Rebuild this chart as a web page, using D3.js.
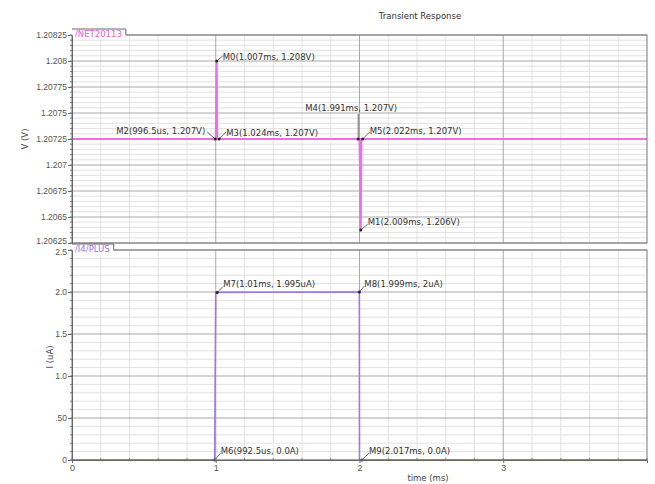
<!DOCTYPE html>
<html>
<head>
<meta charset="utf-8">
<script src="https://cdn.jsdelivr.net/npm/d3@7"></script>
<style>
  html, body { margin: 0; padding: 0; background: #fff; }
  svg { display: block; font-family: "DejaVu Sans", Verdana, sans-serif; }
</style>
</head>
<body>
<svg id="chart" width="655" height="484"></svg>
<script>
// Time axis (ms)
const timeTicks = [0, 1, 2, 3];

// Voltage trace /NET20113 (time in ms, volts)
const vTime  = [0, 0.9965, 1.0, 1.007, 1.010, 1.024, 1.991, 2.0, 2.009, 2.013, 2.022, 4];
const vValue = [1.20725, 1.20725, 1.20725, 1.208, 1.20725, 1.20725, 1.20725, 1.20725, 1.206375, 1.20725, 1.20725, 1.20725];
const vTicks = [1.20625, 1.2065, 1.20675, 1.207, 1.20725, 1.2075, 1.20775, 1.208, 1.20825];
const vTickLabels = ["1.20625", "1.2065", "1.20675", "1.207", "1.20725", "1.2075", "1.20775", "1.208", "1.20825"];

// Current trace /I4/PLUS (time in ms, uA)
const iTime  = [0, 0.9925, 1.0, 1.01, 1.999, 2.0, 2.017, 4];
const iValue = [0, 0, 2.0, 1.995, 2.0, 0, 0, 0];
const iTicks = [0, 0.5, 1.0, 1.5, 2.0, 2.5];
const iTickLabels = ["0", ".50", "1.0", "1.5", "2.0", "2.5"];

// Markers: name, time (ms), value
const vMarkerNames = ["M0", "M2", "M3", "M4", "M5", "M1"];
const vMarkerTime  = [1.007, 0.9965, 1.024, 1.991, 2.022, 2.009];
const vMarkerValue = [1.208, 1.20725, 1.20725, 1.20725, 1.20725, 1.206375];
const iMarkerNames = ["M7", "M8", "M6", "M9"];
const iMarkerTime  = [1.01, 1.999, 0.9925, 2.017];
const iMarkerValue = [1.995, 2, 0, 0];

const svg = d3.select("#chart");

const left = 72, right = 647;
const vTop = 35, vBottom = 243;
const iTop = 250, iBottom = 460;

const x = d3.scaleLinear().domain([0, 4]).range([left, right]);
const yV = d3.scaleLinear().domain([1.20625, 1.20825]).range([vBottom, vTop]);
const yI = d3.scaleLinear().domain([0, 2.5]).range([iBottom, iTop]);

const fmtTime = t => t < 1 ? (+(t * 1000).toFixed(1)) + "us" : (+t.toFixed(3)) + "ms";
const fmtV = v => d3.format(".4")(v) + "V";
const fmtI = v => v === 0 ? "0.0A" : (+v.toFixed(3)) + "uA";

function grid(g, y, yDomain, minorStep, majorTicks, top, bottom) {
  // minor verticals every 0.2 ms
  const xMinor = d3.range(0, 4.0001, 0.2).filter(t => Math.abs(t - Math.round(t)) > 1e-6);
  g.selectAll(".xminor").data(xMinor).join("line")
    .attr("x1", d => x(d)).attr("x2", d => x(d))
    .attr("y1", top).attr("y2", bottom)
    .attr("stroke", "#e2e2e2").attr("stroke-width", 1);
  // minor horizontals
  const n = Math.round((yDomain[1] - yDomain[0]) / minorStep);
  const yMinor = d3.range(0, n + 1).map(k => yDomain[0] + k * minorStep)
    .filter((d, k) => k % 5 !== 0);
  g.selectAll(".yminor").data(yMinor).join("line")
    .attr("x1", left).attr("x2", right)
    .attr("y1", d => y(d)).attr("y2", d => y(d))
    .attr("stroke", "#e2e2e2").attr("stroke-width", 1);
  // major verticals
  g.selectAll(".xmajor").data(timeTicks.slice(1)).join("line")
    .attr("x1", d => x(d)).attr("x2", d => x(d))
    .attr("y1", top).attr("y2", bottom)
    .attr("stroke", "#a8a8a8").attr("stroke-width", 1);
  // major horizontals
  g.selectAll(".ymajor").data(majorTicks).join("line")
    .attr("x1", left).attr("x2", right)
    .attr("y1", d => y(d)).attr("y2", d => y(d))
    .attr("stroke", "#a8a8a8").attr("stroke-width", 1);
}

function yAxis(g, y, ticks, labels, minorStep, nudge) {
  const ax = d3.axisLeft(y).tickValues(ticks).tickFormat((d, i) => labels[i]).tickSize(4).tickPadding(1);
  g.call(ax);
  g.select(".domain").attr("stroke", "#666");
  g.selectAll(".tick line").attr("stroke", "#666");
  g.selectAll(".tick text").attr("fill", "#555").style("font-size", "8.5px")
    .attr("dy", (d, i) => (nudge && nudge[i] ? 0.32 * 8.5 + nudge[i] : 0.32 * 8.5) + "px");
  const d0 = y.domain();
  const n = Math.round((d0[1] - d0[0]) / minorStep);
  g.selectAll(".mt").data(d3.range(0, n + 1).map(k => d0[0] + k * minorStep)).join("line")
    .attr("class", "mt").attr("x1", -2).attr("x2", 0)
    .attr("y1", d => y(d)).attr("y2", d => y(d)).attr("stroke", "#777");
}

function frame(g, top, bottom, name, color) {
  g.append("rect").attr("x", left).attr("y", top).attr("width", right - left).attr("height", bottom - top)
    .attr("fill", "none").attr("stroke", "#777").attr("stroke-width", 1);
  const t = g.append("text").attr("x", left + 3).attr("y", top + 2)
    .attr("fill", color).style("font-size", "8.5px").text(name);
  const w = t.node().getComputedTextLength() + 7;
  g.append("rect").attr("x", left).attr("y", top - 6).attr("width", w).attr("height", 11)
    .attr("fill", "#fff");
  g.append("path").attr("d", `M${left},${top - 6}H${left + w}V${top}`)
    .attr("fill", "none").attr("stroke", "#666");
  t.raise();
}

function markers(g, y, names, times, values, fmtVal, layout) {
  names.forEach((nm, i) => {
    const px = x(times[i]), py = y(values[i]);
    const L = layout[nm];
    g.append("path").attr("d", `M${px},${py}L${px + L.lx},${py + L.ly}`)
      .attr("stroke", "#444").attr("fill", "none").attr("stroke-width", 0.8);
    g.append("circle").attr("cx", px).attr("cy", py).attr("r", 1.5).attr("fill", "#222");
    g.append("text").attr("x", px + L.dx).attr("y", py + L.dy)
      .attr("text-anchor", L.anchor || "start")
      .attr("fill", "#333").style("font-size", "8.5px")
      .text(`${nm}(${fmtTime(times[i])}, ${fmtVal(values[i])})`);
  });
}

// ---- Top panel: voltage ----
const gV = svg.append("g");
grid(gV, yV, yV.domain(), 0.00005, vTicks, vTop, vBottom);
gV.append("path")
  .datum(vTime.map((t, i) => [t, vValue[i]]))
  .attr("fill", "none").attr("stroke", "#ea6fe9").attr("stroke-width", 2)
  .attr("d", d3.line().x(d => x(d[0])).y(d => yV(d[1])));
markers(gV, yV, vMarkerNames, vMarkerTime, vMarkerValue, fmtV, {
  M0: { lx: 6, ly: -5, dx: 6, dy: -1 },
  M2: { lx: -8, ly: -7, dx: -10, dy: -5, anchor: "end" },
  M3: { lx: 7, ly: -7, dx: 7, dy: -3 },
  M4: { lx: 0, ly: -25, dx: -7, dy: -28, anchor: "middle" },
  M5: { lx: 7, ly: -7, dx: 7, dy: -5 },
  M1: { lx: 7, ly: -6, dx: 7, dy: -5 }
});
frame(gV, vTop, vBottom, "/NET20113", "#e060e0");
yAxis(svg.append("g").attr("transform", `translate(${left},0)`), yV, vTicks, vTickLabels, 0.00005, [-2]);

// ---- Bottom panel: current ----
const gI = svg.append("g");
grid(gI, yI, yI.domain(), 0.1, iTicks, iTop, iBottom);
gI.append("path")
  .datum(iTime.map((t, i) => [t, iValue[i]]))
  .attr("fill", "none").attr("stroke", "#9a78e6").attr("stroke-width", 1.6)
  .attr("d", d3.line().x(d => x(d[0])).y(d => yI(d[1])));
markers(gI, yI, iMarkerNames, iMarkerTime, iMarkerValue, fmtI, {
  M7: { lx: 6, ly: -6, dx: 6, dy: -5 },
  M8: { lx: 5, ly: -6, dx: 5, dy: -5 },
  M6: { lx: 6, ly: -7, dx: 6, dy: -6 },
  M9: { lx: 7, ly: -7, dx: 7, dy: -6 }
});
frame(gI, iTop, iBottom, "/I4/PLUS", "#9a6fe6");
yAxis(svg.append("g").attr("transform", `translate(${left},0)`), yI, iTicks, iTickLabels, 0.1, [0, 0, 0, 0, 0, 2]);

// ---- Time axis ----
const gx = svg.append("g").attr("transform", `translate(0,${iBottom})`);
gx.call(d3.axisBottom(x).tickValues(timeTicks).tickFormat(d3.format("d")).tickSize(3).tickPadding(2));
gx.select(".domain").attr("stroke", "#666");
gx.selectAll(".tick line").attr("stroke", "#666");
gx.selectAll(".tick text").attr("fill", "#555").style("font-size", "9px");
gx.selectAll(".mt").data(d3.range(0, 4.0001, 0.2)).join("line")
  .attr("class", "mt").attr("x1", d => x(d)).attr("x2", d => x(d))
  .attr("y1", -2).attr("y2", 0).attr("stroke", "#777");

// ---- Titles ----
svg.append("text").attr("x", 420).attr("y", 19).attr("text-anchor", "middle")
  .attr("fill", "#333").style("font-size", "8.5px").text("Transient Response");
svg.append("text").attr("transform", "translate(28,139) rotate(-90)").attr("text-anchor", "middle")
  .attr("fill", "#444").style("font-size", "8.5px").text("V (V)");
svg.append("text").attr("transform", "translate(53,357) rotate(-90)").attr("text-anchor", "middle")
  .attr("fill", "#444").style("font-size", "8.5px").text("I (uA)");
svg.append("text").attr("x", 428).attr("y", 481).attr("text-anchor", "middle")
  .attr("fill", "#444").style("font-size", "8.5px").text("time (ms)");
</script>
</body>
</html>
